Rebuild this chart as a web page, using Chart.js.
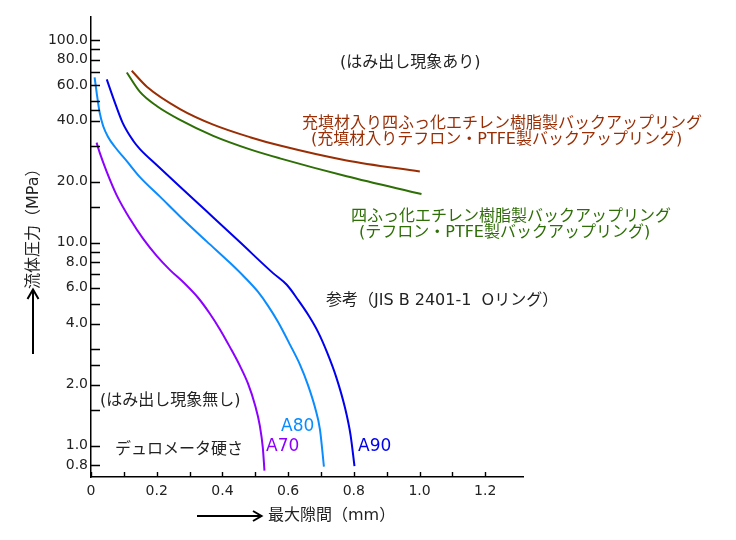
<!DOCTYPE html>
<html>
<head>
<meta charset="utf-8">
<script src="https://cdn.jsdelivr.net/npm/chart.js@4/dist/chart.umd.min.js"></script>
<style>
html,body{margin:0;padding:0;background:#fff;}
#wrap{width:736px;height:540px;}
</style>
</head>
<body>
<div id="wrap"><canvas id="c" width="736" height="540"></canvas></div>
<script>
// ---- data ----
const a70X = [0.017, 0.027, 0.048, 0.078, 0.119, 0.159, 0.200, 0.240, 0.286, 0.326, 0.362, 0.393, 0.423, 0.453, 0.478, 0.499, 0.514, 0.523, 0.528];
const a70Y = [31.2, 27.7, 22.4, 17.2, 13.1, 10.46, 8.63, 7.36, 6.28, 5.36, 4.47, 3.73, 3.06, 2.48, 2.02, 1.59, 1.25, 0.977, 0.753];

const a80X = [0.011, 0.017, 0.026, 0.037, 0.052, 0.073, 0.109, 0.149, 0.210, 0.271, 0.352, 0.423, 0.469, 0.508, 0.539, 0.569, 0.606, 0.636, 0.660, 0.682, 0.697, 0.709];
const a80Y = [65.5, 55.4, 44.2, 37.7, 33.3, 29.7, 25.3, 21.1, 16.9, 13.5, 10.17, 7.97, 6.73, 5.74, 4.89, 4.08, 3.14, 2.51, 2.00, 1.54, 1.20, 0.788];

const a90X = [0.048, 0.070, 0.096, 0.129, 0.149, 0.200, 0.271, 0.352, 0.453, 0.555, 0.596, 0.630, 0.663, 0.691, 0.718, 0.746, 0.773, 0.790, 0.802];
const a90Y = [64.0, 50.6, 39.2, 31.8, 29.0, 24.2, 18.9, 14.3, 10.09, 7.07, 6.21, 5.24, 4.37, 3.64, 2.90, 2.19, 1.54, 1.13, 0.793];

const ptfeX = [0.109, 0.149, 0.200, 0.271, 0.372, 0.484, 0.575, 0.778, 1.006];
const ptfeY = [69.2, 55.5, 47.3, 40.4, 33.7, 28.9, 26.1, 21.3, 17.4];

const filledX = [0.124, 0.170, 0.271, 0.372, 0.484, 0.575, 0.778, 1.001];
const filledY = [70.6, 58.9, 45.7, 38.3, 33.2, 30.2, 25.5, 22.5];

const xTickValues = [0, 0.1, 0.2, 0.3, 0.4, 0.5, 0.6, 0.7, 0.8, 0.9, 1.0, 1.1, 1.2];
const xLabelValues = [0, 0.2, 0.4, 0.6, 0.8, 1.0, 1.2];
const xLabelText = ['0', '0.2', '0.4', '0.6', '0.8', '1.0', '1.2'];

const yTickValues = [0.8, 1, 1.5, 2, 2.5, 3, 4, 5, 6, 7, 8, 9, 10, 15, 20, 30, 40, 45, 50, 60, 70, 80, 90, 100];
const yLabelValues = [0.8, 1, 2, 4, 6, 8, 10, 20, 40, 60, 80, 100];
const yLabelText = ['0.8', '1.0', '2.0', '4.0', '6.0', '8.0', '10.0', '20.0', '40.0', '60.0', '80.0', '100.0'];

// ---- styles ----
const C_A70 = '#8c00ff', C_A80 = '#0a8cff', C_A90 = '#0000ee', C_GREEN = '#2d6e05', C_BROWN = '#992e05';
const TXT = '#222';
const LAT = '"DejaVu Sans", "Noto Sans CJK JP", sans-serif';
const JP = '"Noto Sans CJK JP", sans-serif';
const JPL = '"DejaVu Sans", "Noto Sans CJK JP", sans-serif';

function pts(xs, ys) { return xs.map((x, i) => ({x: x, y: ys[i]})); }
function lookup(v, vals, texts) {
  for (let i = 0; i < vals.length; i++) if (Math.abs(vals[i] - v) < 1e-9) return texts[i];
  return '';
}
function ds(xs, ys, color) {
  return {data: pts(xs, ys), borderColor: color, borderWidth: 2, pointRadius: 0,
          fill: false, cubicInterpolationMode: 'monotone'};
}

const overlay = {
  id: 'overlay',
  afterDraw(chart) {
    const ctx = chart.ctx, xs = chart.scales.x, ys = chart.scales.y, a = chart.chartArea;
    ctx.save();
    // inside tick marks
    ctx.strokeStyle = '#000'; ctx.lineWidth = 1.4;
    ctx.beginPath();
    yTickValues.forEach(v => { const p = Math.round(ys.getPixelForValue(v)) + 0.5; ctx.moveTo(a.left, p); ctx.lineTo(a.left + 9, p); });
    xTickValues.forEach(v => { const p = Math.round(xs.getPixelForValue(v)) + 0.5; ctx.moveTo(p, a.bottom); ctx.lineTo(p, a.bottom - 5); });
    ctx.stroke();

    // texts
    ctx.textBaseline = 'middle'; ctx.textAlign = 'left';
    function t(s, x, y, color, font) { ctx.fillStyle = color; ctx.font = font; ctx.fillText(s, x, y); }
    t('(はみ出し現象あり)', 340, 63, TXT, '16px ' + JPL);
    t('充填材入り四ふっ化エチレン樹脂製バックアップリング', 302, 122, C_BROWN, '16px ' + JP);
    t('(充填材入りテフロン・PTFE製バックアップリング)', 311, 140, C_BROWN, '16px ' + JPL);
    t('四ふっ化エチレン樹脂製バックアップリング', 351, 215, C_GREEN, '16px ' + JP);
    t('(テフロン・PTFE製バックアップリング)', 359, 233, C_GREEN, '16px ' + JPL);
    t('参考（JIS B 2401-1  Oリング）', 326, 301, TXT, '16px ' + JPL);
    t('(はみ出し現象無し)', 100, 401, TXT, '16px ' + JPL);
    t('デュロメータ硬さ', 115, 448, TXT, '16px ' + JP);
    t('A70', 266, 447, C_A70, '17px ' + LAT);
    t('A80', 281, 427, C_A80, '17px ' + LAT);
    t('A90', 358, 447, C_A90, '17px ' + LAT);
    t('最大隙間（mm）', 268, 516, TXT, '16px ' + JPL);

    // y title rotated
    ctx.save();
    ctx.translate(34, 289);
    ctx.rotate(-Math.PI / 2);
    t('流体圧力（MPa）', 0, 0, TXT, '16px ' + JPL);
    ctx.restore();

    // arrows
    ctx.strokeStyle = '#000'; ctx.lineWidth = 2;
    ctx.beginPath();
    ctx.moveTo(197, 516); ctx.lineTo(261, 516);
    ctx.moveTo(253, 511); ctx.lineTo(261.5, 516); ctx.lineTo(253, 521);
    ctx.moveTo(33, 354); ctx.lineTo(33, 290);
    ctx.moveTo(27.5, 299); ctx.lineTo(33, 289.5); ctx.lineTo(38.5, 299);
    ctx.stroke();
    ctx.restore();
  }
};

new Chart(document.getElementById('c'), {
  type: 'line',
  data: {
    datasets: [
      ds(a70X, a70Y, C_A70),
      ds(a80X, a80Y, C_A80),
      ds(a90X, a90Y, C_A90),
      ds(ptfeX, ptfeY, C_GREEN),
      ds(filledX, filledY, C_BROWN)
    ]
  },
  options: {
    responsive: false,
    animation: false,
    devicePixelRatio: 1,
    layout: {padding: {top: 17, right: 213, left: 0, bottom: 0}},
    plugins: {legend: {display: false}, tooltip: {enabled: false}},
    scales: {
      x: {
        type: 'linear', min: 0, max: 1.315,
        afterBuildTicks(s) { s.ticks = xTickValues.map(v => ({value: v})); },
        afterFit(s) { s.height = 63; },
        grid: {display: false, drawTicks: false},
        border: {display: true, color: '#000', width: 1.5},
        ticks: {
          autoSkip: false, maxRotation: 0, padding: 6, color: TXT,
          font: {family: 'DejaVu Sans', size: 14},
          callback: v => lookup(v, xLabelValues, xLabelText)
        }
      },
      y: {
        type: 'logarithmic', min: 0.7035, max: 130,
        afterBuildTicks(s) { s.ticks = yTickValues.map(v => ({value: v})); },
        afterFit(s) { s.width = 91; },
        grid: {display: false, drawTicks: false},
        border: {display: true, color: '#000', width: 1.5},
        ticks: {
          autoSkip: false, padding: 3, color: TXT,
          font: {family: 'DejaVu Sans', size: 14},
          callback: v => lookup(v, yLabelValues, yLabelText)
        }
      }
    }
  },
  plugins: [overlay]
});
</script>
</body>
</html>
